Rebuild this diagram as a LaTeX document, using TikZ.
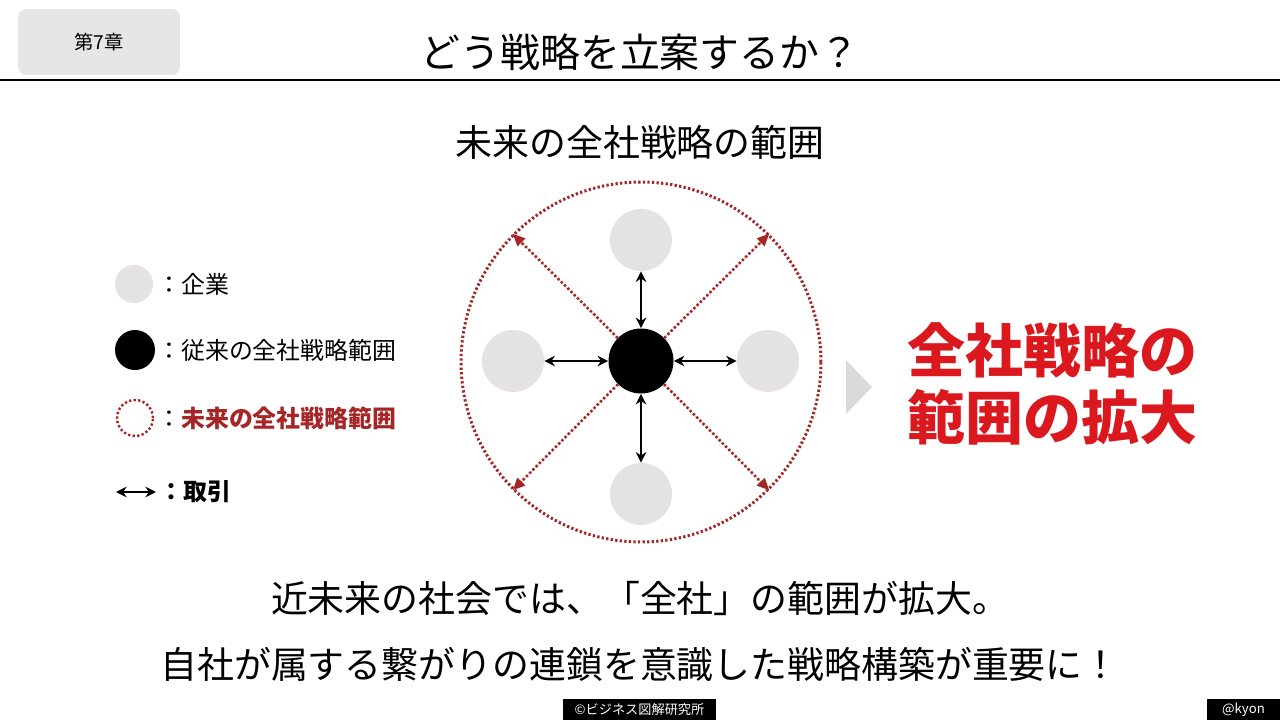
\documentclass[tikz,border=0pt]{standalone}
\usepackage{fontspec}
\setmainfont{Noto Sans CJK JP}
\usetikzlibrary{arrows.meta}
\definecolor{kigyogray}{RGB}{228,226,227}
\definecolor{boxgray}{RGB}{230,230,230}
\definecolor{yajigray}{RGB}{218,218,218}
\definecolor{senryakured}{RGB}{218,24,30}
\definecolor{haniired}{RGB}{165,38,38}
\tikzset{
  kigyo/.style={circle, fill=kigyogray, minimum size=1.24cm, inner sep=0pt},
  honsha/.style={circle, fill=black, minimum size=1.3cm, inner sep=0pt},
  hanni/.style={circle, draw=haniired, line width=1.7pt, dash pattern=on 1.3pt off 1.3pt, inner sep=0pt},
  torihiki/.style={{Stealth[length=6pt,width=6pt]}-{Stealth[length=6pt,width=6pt]}, line width=1.5pt},
  kakudai/.style={-{Triangle[length=7pt,width=6pt]}, draw=haniired, fill=haniired, line width=1.5pt, dash pattern=on 1.3pt off 1.3pt},
  footbox/.style={fill=black, text=white, font=\fontsize{7.5}{9}\selectfont, inner sep=0pt, minimum height=0.42cm},
}
\begin{document}
\begin{tikzpicture}[x=0.02cm, y=-0.02cm]
    \useasboundingbox (0,0) rectangle (1280,720);

    % 見出し
    \node[fill=boxgray, rounded corners=4.5pt, minimum width=3.24cm, minimum height=1.32cm,
          font=\fontsize{11}{13}\selectfont] (shou) at (99,42) {第7章};
    \node[font=\fontsize{22.7}{26}\selectfont] (title) at (640,52) {どう戦略を立案するか？};
    \draw[line width=0.7pt] (0,80) -- (1280,80);

    \node[font=\fontsize{21}{24}\selectfont] (sub) at (640,142) {未来の全社戦略の範囲};

    % 未来の全社戦略の範囲(外円)
    \node[hanni, minimum size=7.2cm] (hanni) at (641,362) {};

    % 企業と従来の範囲
    \node[honsha] (hon) at (641,361) {};
    \node[kigyo] (ue) at (641,240) {};
    \node[kigyo] (hidari) at (513,361) {};
    \node[kigyo] (migi) at (768,361) {};
    \node[kigyo] (shita) at (641,494) {};

    % 取引
    \draw[torihiki] (hon) -- (ue);
    \draw[torihiki] (hon) -- (hidari);
    \draw[torihiki] (hon) -- (migi);
    \draw[torihiki] (hon) -- (shita);

    % 範囲の拡大
    \draw[kakudai] (hon) -- (hanni.north west);
    \draw[kakudai] (hon) -- (hanni.north east);
    \draw[kakudai] (hon) -- (hanni.south west);
    \draw[kakudai] (hon) -- (hanni.south east);

    % 凡例
    \node[kigyo, minimum size=0.76cm] (lg1) at (134,284) {};
    \node[anchor=west, inner sep=0pt, font=\fontsize{13.6}{16}\selectfont] (lt1) at (157,284) {：企業};

    \node[honsha, minimum size=0.8cm] (lg2) at (135,350) {};
    \node[anchor=west, inner sep=0pt, font=\fontsize{13.6}{16}\selectfont] (lt2) at (157,350) {：従来の全社戦略範囲};

    \node[hanni, line width=1.4pt, minimum size=0.72cm] (lg3) at (135,418) {};
    \node[anchor=west, inner sep=0pt, font=\fontsize{13.6}{16}\selectfont] (lt3) at (157,418) {：\textcolor{haniired}{\bfseries 未来の全社戦略範囲}};

    \coordinate (lg4a) at (116,492);
    \coordinate (lg4b) at (156,492);
    \draw[torihiki, line width=1.3pt] (lg4a) -- (lg4b);
    \node[anchor=west, inner sep=0pt, font=\fontsize{13.6}{16}\selectfont\bfseries] (lt4) at (159,492) {：取引};

    % 矢印と結論
    \fill[yajigray] (846,360) -- (872,387) -- (846,414) -- cycle;
    \node[anchor=west, align=left, inner sep=0pt, text=senryakured,
          font=\fontsize{33}{38.5}\selectfont\bfseries] (ketsuron) at (907,384) {全社戦略の\\範囲の拡大};

    % まとめ
    \node[font=\fontsize{21}{24}\selectfont] (matome1) at (640,598) {近未来の社会では、「全社」の範囲が拡大。};
    \node[font=\fontsize{21}{24}\selectfont] (matome2) at (640,664) {自社が属する繋がりの連鎖を意識した戦略構築が重要に！};

    % フッター
    \node[footbox, minimum width=3.06cm] (copy) at (639.5,709.5) {©ビジネス図解研究所};
    \node[footbox, minimum width=1.46cm] (kyon) at (1243.5,709.5) {@kyon};
\end{tikzpicture}
\end{document}
